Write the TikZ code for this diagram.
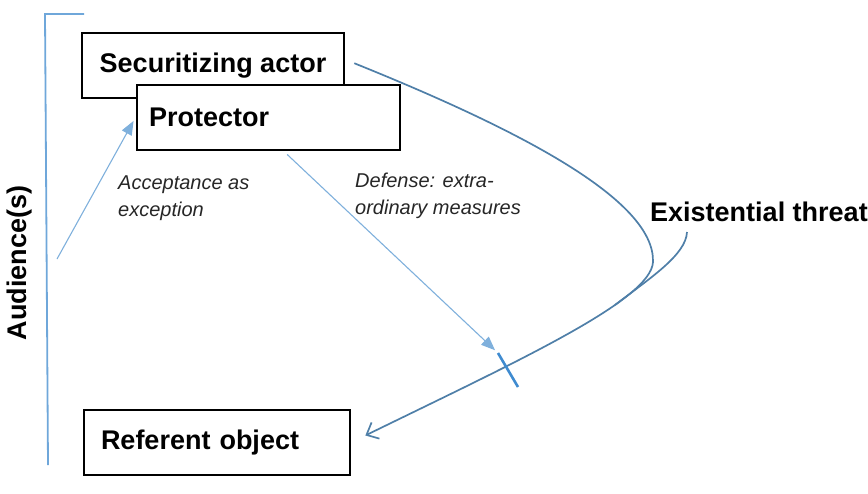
\documentclass[tikz,border=0pt]{standalone}
\usepackage{fontspec}
\setmainfont{Liberation Sans}
\usetikzlibrary{arrows.meta, positioning}
\definecolor{linkcol}{HTML}{4F7FA8}
\definecolor{lightcol}{HTML}{7FB0DC}
\definecolor{audcol}{HTML}{6FA7DA}
\definecolor{tickcol}{HTML}{3F8BD0}
\tikzset{
  actbox/.style={rectangle, draw, line width=2pt, fill=white, minimum height=65pt, anchor=north west, align=left, font=\fontsize{27}{32}\selectfont\bfseries},
  lbl/.style={align=left, anchor=north west, inner sep=0pt, font=\fontsize{20}{27}\selectfont\itshape, text=black!85},
  bigtext/.style={font=\fontsize{27}{32}\selectfont\bfseries, inner sep=0pt},
  flow/.style={-{Triangle[length=14pt, width=11pt]}, line width=1.1pt, lightcol},
  threatline/.style={line width=1.7pt, linkcol},
}

\begin{document}
\begin{tikzpicture}[x=1pt, y=-1pt, >=Stealth]
  \useasboundingbox (0,0) rectangle (868,493);
  % audience bracket
  \draw[audcol, line width=1.8pt] (84,14) -- (45,14) -- (48,465);
  \node[bigtext, rotate=90] (aud) at (20,263) {Audience(s)};
  \coordinate (audfoot) at (57,259);
  % boxes
  \node[actbox, minimum width=262pt, inner xsep=17pt] (sa) at (81,32) {Securitizing actor};
  \node[actbox, minimum width=263pt, text width=239pt, inner xsep=12pt] (pr) at (136,84) {Protector};
  \node[actbox, minimum width=266pt, text width=232pt, inner xsep=17pt] (ro) at (83,409) {Referent object};
  \node[bigtext, anchor=west] (et) at (650,212) {Existential threat};
  % labels
  \node[lbl] (acc) at (118,176) {Acceptance as\\exception};
  \node[lbl] (def) at (355,173) {Defense: extra-\\ordinary measures};
  % block on the threat line
  \coordinate (blkA) at (498,353);
  \coordinate (blkB) at (518,387);
  \coordinate (tail) at (687,232);
  % threat line
  \draw[threatline, -{Straight Barb[length=10pt, width=18pt]}, shorten <=10pt, shorten >=16pt]
    ([yshift=6pt]sa.east) .. controls (520,130) and (655,200) .. (653,262)
    .. controls (651,300) and (520,360) .. (ro.east);
  \draw[threatline] (tail) .. controls (686,255) and (650,278) .. (615,305);
  % acceptance and defense
  \draw[flow, shorten >=5pt] (audfoot) -- ([yshift=1pt]pr.west);
  \draw[flow, shorten <=5pt, shorten >=4pt] ([xshift=15pt]pr.south) -- (blkA);
  \draw[tickcol, line width=2.6pt] (blkA) -- (blkB);
\end{tikzpicture}
\end{document}
